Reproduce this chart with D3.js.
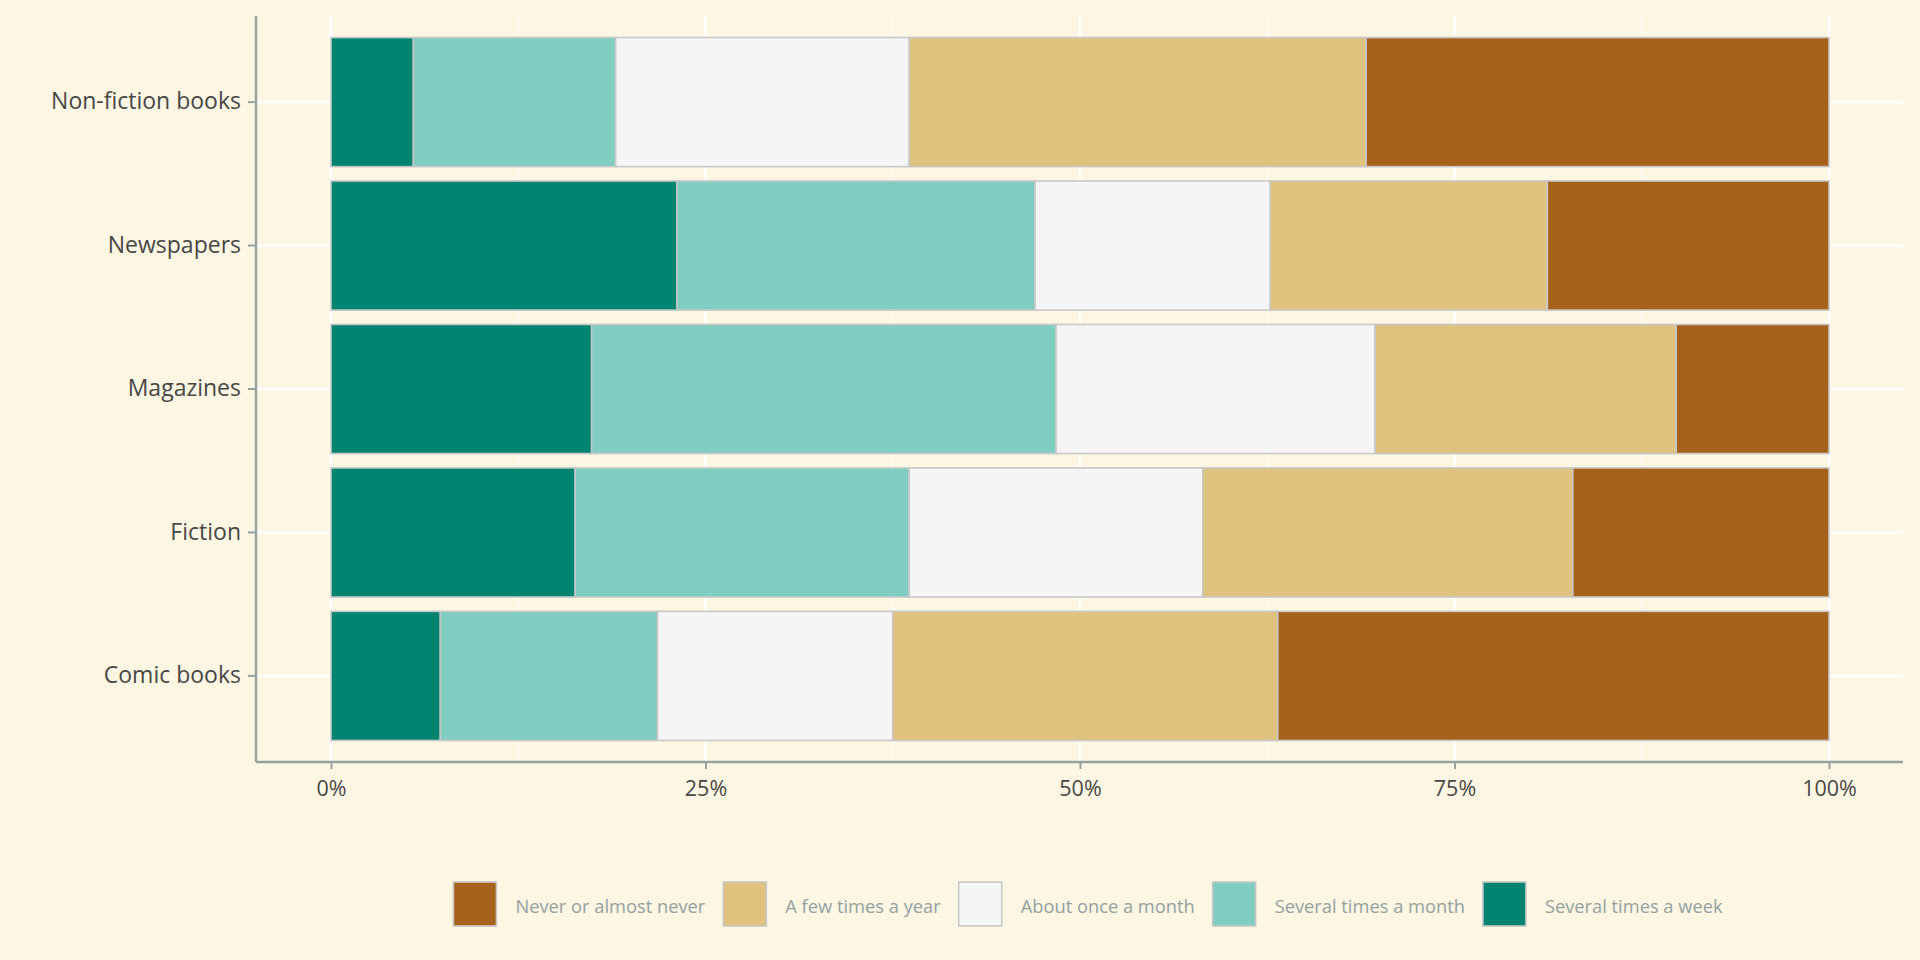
<!DOCTYPE html>
<html>
<head>
<meta charset="utf-8">
<script src="https://cdn.jsdelivr.net/npm/d3@7"></script>
<style>
  html, body { margin: 0; padding: 0; background: #fdf6e3; }
  svg { display: block; }
</style>
</head>
<body>
<svg id="chart"></svg>
<script>
// categories top to bottom
const categories = ["Non-fiction books", "Newspapers", "Magazines", "Fiction", "Comic books"]
// answers, stacked left to right
const responses = ["Several times a week", "Several times a month", "About once a month", "A few times a year", "Never or almost never"]
// percentages per answer, same order as categories
const severalWeek = [5.5, 23.1, 17.4, 16.3, 7.3]
const severalMonth = [13.5, 23.9, 31.0, 22.3, 14.5]
const onceMonth = [19.6, 15.7, 21.3, 19.6, 15.7]
const fewYear = [30.5, 18.5, 20.1, 24.7, 25.7]
const never = [30.9, 18.8, 10.2, 17.1, 36.8]
const colors = ["#018571", "#80cdc1", "#f5f5f5", "#dfc27d", "#a6611a"]
const xTicks = [0, 0.25, 0.5, 0.75, 1]
const xMinor = [0.125, 0.375, 0.625, 0.875]

const width = 1920
const height = 960
const panel = { left: 256, right: 1903, top: 16, bottom: 762 }

const rows = categories.map((c, i) => ({
  category: c,
  [responses[0]]: severalWeek[i],
  [responses[1]]: severalMonth[i],
  [responses[2]]: onceMonth[i],
  [responses[3]]: fewYear[i],
  [responses[4]]: never[i]
}))

const series = d3.stack()
  .keys(responses)
  .offset(d3.stackOffsetExpand)(rows)

const svg = d3.select("#chart")
  .attr("width", width)
  .attr("height", height)

svg.append("rect")
  .attr("width", width)
  .attr("height", height)
  .attr("fill", "#fdf6e3")

const x = d3.scaleLinear()
  .domain([0, 1])
  .range([331, 1829])

const y = d3.scaleBand()
  .domain(categories)
  .range([panel.top, panel.bottom])
  .paddingInner(0.1)
  .paddingOuter(0.15)

const color = d3.scaleOrdinal().domain(responses).range(colors)

// grid
const grid = svg.append("g")
grid.selectAll(".minor")
  .data(xMinor)
  .join("line")
  .attr("x1", d => x(d)).attr("x2", d => x(d))
  .attr("y1", panel.top).attr("y2", panel.bottom)
  .attr("stroke", "#ffffff")
  .attr("stroke-width", 1.2)
grid.selectAll(".major")
  .data(xTicks)
  .join("line")
  .attr("x1", d => x(d)).attr("x2", d => x(d))
  .attr("y1", panel.top).attr("y2", panel.bottom)
  .attr("stroke", "#ffffff")
  .attr("stroke-width", 2.6)
grid.selectAll(".hline")
  .data(categories)
  .join("line")
  .attr("x1", panel.left).attr("x2", panel.right)
  .attr("y1", d => y(d) + y.bandwidth() / 2)
  .attr("y2", d => y(d) + y.bandwidth() / 2)
  .attr("stroke", "#ffffff")
  .attr("stroke-width", 2.6)

// bars
svg.append("g")
  .selectAll("g")
  .data(series)
  .join("g")
  .attr("fill", d => color(d.key))
  .selectAll("rect")
  .data(d => d)
  .join("rect")
  .attr("x", d => x(d[0]))
  .attr("width", d => x(d[1]) - x(d[0]))
  .attr("y", d => y(d.data.category))
  .attr("height", y.bandwidth())
  .attr("stroke", "#c8c8c8")
  .attr("stroke-width", 1.6)

// axes
const axisColor = "#95a3a0"
const textColor = "#474747"

const xAxis = svg.append("g")
  .attr("transform", `translate(0,${panel.bottom})`)
  .call(d3.axisBottom(x)
    .tickValues(xTicks)
    .tickFormat(d3.format(".0%"))
    .tickSize(7)
    .tickSizeOuter(0))
xAxis.select(".domain").remove()
xAxis.selectAll(".tick line").attr("stroke", axisColor).attr("stroke-width", 2)
xAxis.selectAll(".tick text")
  .attr("y", 34)
  .attr("dy", 0)
  .attr("fill", textColor)
  .style("font-family", "'Open Sans', sans-serif")
  .style("font-size", "21.5px")

const yAxis = svg.append("g")
  .attr("transform", `translate(${panel.left},0)`)
  .call(d3.axisLeft(y).tickSize(8).tickSizeOuter(0))
yAxis.select(".domain").remove()
yAxis.selectAll(".tick line").attr("stroke", axisColor).attr("stroke-width", 2)
yAxis.selectAll(".tick text")
  .attr("x", -15)
  .attr("fill", textColor)
  .style("font-family", "'Open Sans', sans-serif")
  .style("font-size", "23px")

svg.append("line")
  .attr("x1", panel.left).attr("x2", panel.right)
  .attr("y1", panel.bottom).attr("y2", panel.bottom)
  .attr("stroke", axisColor).attr("stroke-width", 2.4)
svg.append("line")
  .attr("x1", panel.left).attr("x2", panel.left)
  .attr("y1", panel.top).attr("y2", panel.bottom)
  .attr("stroke", axisColor).attr("stroke-width", 2.4)

// legend, reversed order
const legendKeys = responses.slice().reverse()
const legend = svg.append("g")
const items = legend.selectAll("g")
  .data(legendKeys)
  .join("g")
items.append("rect")
  .attr("width", 43)
  .attr("height", 44)
  .attr("y", 882)
  .attr("fill", d => color(d))
  .attr("stroke", "#c8c8c8")
  .attr("stroke-width", 1.6)
items.append("text")
  .attr("x", 62)
  .attr("y", 907)
  .attr("dy", "0.35em")
  .attr("fill", "#93a1a1")
  .style("font-family", "'Open Sans', sans-serif")
  .style("font-size", "18.3px")
  .text(d => d)

let offset = 0
const positions = []
items.each(function () {
  const w = this.querySelector("text").getComputedTextLength()
  positions.push(offset)
  offset += 62 + w + 18
})
const total = offset - 18
const startX = 1088 - total / 2
items.attr("transform", (d, i) => `translate(${startX + positions[i]},0)`)
</script>
</body>
</html>
